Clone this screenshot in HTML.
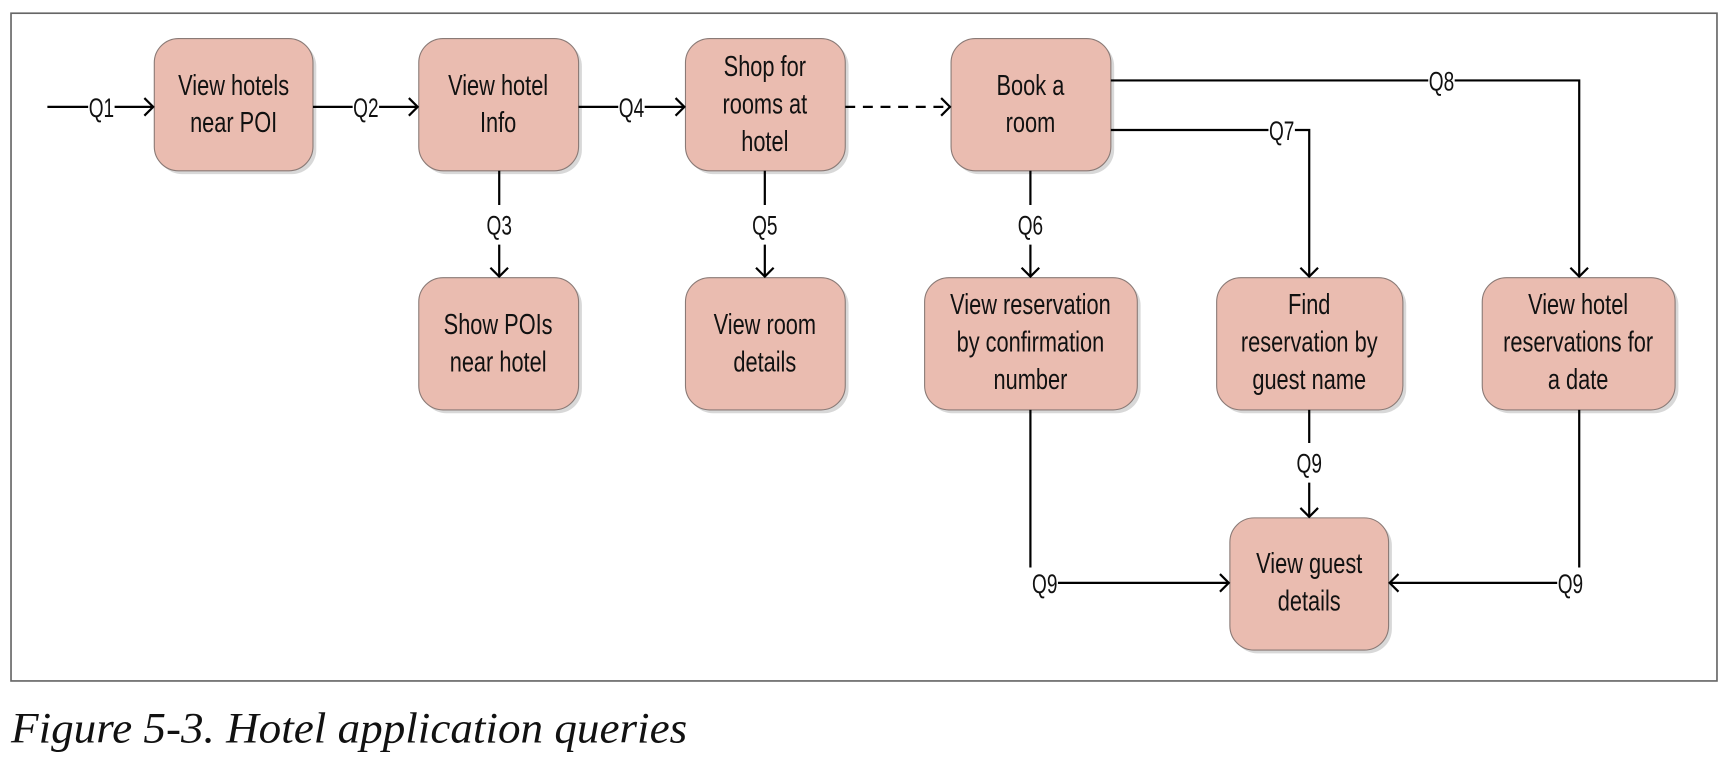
<!DOCTYPE html>
<html><head><meta charset="utf-8"><style>
html,body{margin:0;padding:0;background:#fff;width:1728px;height:768px;overflow:hidden}
svg{display:block}
.t{font-family:"Liberation Sans Narrow","Liberation Sans",sans-serif;font-size:26px;fill:#111;text-anchor:middle}
.l{font-family:"Liberation Sans Narrow","Liberation Sans",sans-serif;font-size:24px;fill:#111;text-anchor:middle}
.b{fill:#eabcb0;stroke:#8a7a76;stroke-width:1}
.s{fill:#d8d8d8}
.ln{stroke:#000;stroke-width:2;fill:none}
.ah{stroke:#000;stroke-width:2;fill:none}
</style></head><body>
<svg width="1728" height="768" viewBox="0 0 1568 697" preserveAspectRatio="none">
<rect x="10" y="12" width="1548" height="606" fill="#fff" stroke="#666" stroke-width="1.5"/>
<g>
<rect class="s" x="143" y="38" width="144" height="120" rx="22"/>
<rect class="s" x="383" y="38" width="145" height="120" rx="22"/>
<rect class="s" x="625" y="38" width="145" height="120" rx="22"/>
<rect class="s" x="866" y="38" width="145" height="120" rx="22"/>
<rect class="s" x="383" y="255" width="145" height="120" rx="22"/>
<rect class="s" x="625" y="255" width="145" height="120" rx="22"/>
<rect class="s" x="842" y="255" width="193" height="120" rx="22"/>
<rect class="s" x="1107" y="255" width="169" height="120" rx="22"/>
<rect class="s" x="1348" y="255" width="175" height="120" rx="22"/>
<rect class="s" x="1119" y="473" width="144" height="120" rx="22"/>
</g>
<rect class="b" x="140" y="35" width="144" height="120" rx="22"/>
<rect class="b" x="380" y="35" width="145" height="120" rx="22"/>
<rect class="b" x="622" y="35" width="145" height="120" rx="22"/>
<rect class="b" x="863" y="35" width="145" height="120" rx="22"/>
<rect class="b" x="380" y="252" width="145" height="120" rx="22"/>
<rect class="b" x="622" y="252" width="145" height="120" rx="22"/>
<rect class="b" x="839" y="252" width="193" height="120" rx="22"/>
<rect class="b" x="1104" y="252" width="169" height="120" rx="22"/>
<rect class="b" x="1345" y="252" width="175" height="120" rx="22"/>
<rect class="b" x="1116" y="470" width="144" height="120" rx="22"/>

<g class="t">
<text class="t" transform="translate(212,86) scale(0.76,1)">View hotels</text><text class="t" transform="translate(212,120) scale(0.76,1)">near POI</text>
<text class="t" transform="translate(452,86) scale(0.76,1)">View hotel</text><text class="t" transform="translate(452,120) scale(0.76,1)">Info</text>
<text class="t" transform="translate(694,69) scale(0.76,1)">Shop for</text><text class="t" transform="translate(694,103) scale(0.76,1)">rooms at</text><text class="t" transform="translate(694,137) scale(0.76,1)">hotel</text>
<text class="t" transform="translate(935,86) scale(0.76,1)">Book a</text><text class="t" transform="translate(935,120) scale(0.76,1)">room</text>
<text class="t" transform="translate(452,303) scale(0.76,1)">Show POIs</text><text class="t" transform="translate(452,337) scale(0.76,1)">near hotel</text>
<text class="t" transform="translate(694,303) scale(0.76,1)">View room</text><text class="t" transform="translate(694,337) scale(0.76,1)">details</text>
<text class="t" transform="translate(935,285) scale(0.76,1)">View reservation</text><text class="t" transform="translate(935,319) scale(0.76,1)">by confirmation</text><text class="t" transform="translate(935,353) scale(0.76,1)">number</text>
<text class="t" transform="translate(1188,285) scale(0.76,1)">Find</text><text class="t" transform="translate(1188,319) scale(0.76,1)">reservation by</text><text class="t" transform="translate(1188,353) scale(0.76,1)">guest name</text>
<text class="t" transform="translate(1432,285) scale(0.76,1)">View hotel</text><text class="t" transform="translate(1432,319) scale(0.76,1)">reservations for</text><text class="t" transform="translate(1432,353) scale(0.76,1)">a date</text>
<text class="t" transform="translate(1188,520) scale(0.76,1)">View guest</text><text class="t" transform="translate(1188,554) scale(0.76,1)">details</text>
</g>

<path class="ln" d="M43 97H80M104 97H139"/><path class="ah" d="M131 89L139 97L131 105"/>
<text class="l" transform="translate(92,106) scale(0.72,1)">Q1</text>
<path class="ln" d="M284 97H320M344 97H379"/><path class="ah" d="M371 89L379 97L371 105"/>
<text class="l" transform="translate(332,106) scale(0.72,1)">Q2</text>
<path class="ln" d="M525 97H561M585 97H621"/><path class="ah" d="M613 89L621 97L613 105"/>
<text class="l" transform="translate(573,106) scale(0.72,1)">Q4</text>
<path class="ln" d="M767 97H862" stroke-dasharray="9,7"/><path class="ah" d="M854 89L862 97L854 105"/>
<path class="ln" d="M1008 73H1296M1320 73H1433V251"/><path class="ah" d="M1425 243L1433 251L1441 243"/>
<text class="l" transform="translate(1308,82) scale(0.72,1)">Q8</text>
<path class="ln" d="M1008 118H1151M1175 118H1188V251"/><path class="ah" d="M1180 243L1188 251L1196 243"/>
<text class="l" transform="translate(1163,127) scale(0.72,1)">Q7</text>
<path class="ln" d="M453 155V186M453 222V251"/><path class="ah" d="M445 243L453 251L461 243"/>
<text class="l" transform="translate(453,213) scale(0.72,1)">Q3</text>
<path class="ln" d="M694 155V186M694 222V251"/><path class="ah" d="M686 243L694 251L702 243"/>
<text class="l" transform="translate(694,213) scale(0.72,1)">Q5</text>
<path class="ln" d="M935 155V186M935 222V251"/><path class="ah" d="M927 243L935 251L943 243"/>
<text class="l" transform="translate(935,213) scale(0.72,1)">Q6</text>
<path class="ln" d="M1188 372V402M1188 438V469"/><path class="ah" d="M1180 461L1188 469L1196 461"/>
<text class="l" transform="translate(1188,429) scale(0.72,1)">Q9</text>
<path class="ln" d="M935 372V515M960 529H1115"/><path class="ah" d="M1107 521L1115 529L1107 537"/>
<text class="l" transform="translate(948,538) scale(0.72,1)">Q9</text>
<path class="ln" d="M1433 372V515M1413 529H1261"/><path class="ah" d="M1269 521L1261 529L1269 537"/>
<text class="l" transform="translate(1425,538) scale(0.72,1)">Q9</text>

<text transform="translate(10,674) scale(1.05,1)" font-family="Liberation Serif, serif" font-style="italic" font-size="39" fill="#111">Figure 5-3. Hotel application queries</text>
</svg>
</body></html>
